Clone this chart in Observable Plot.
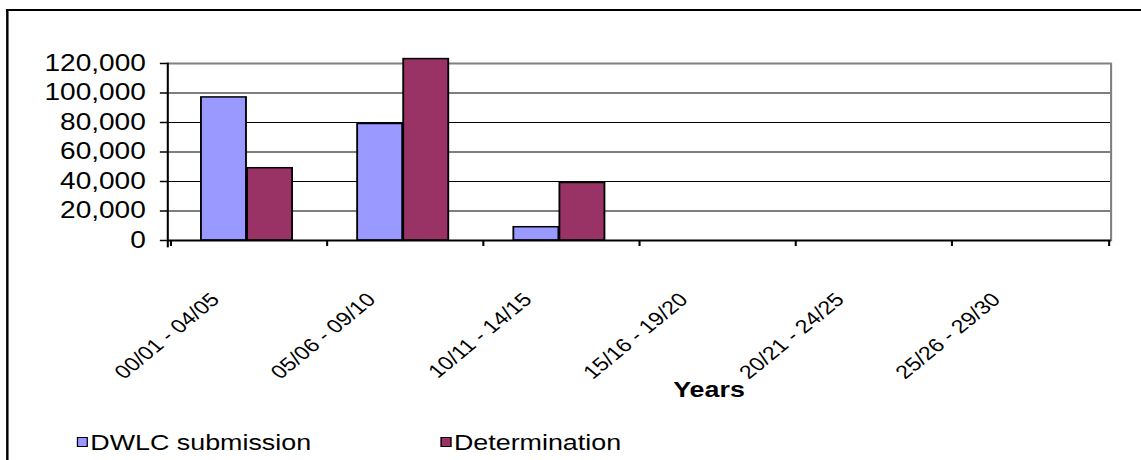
<!DOCTYPE html>
<html>
<head>
<meta charset="utf-8">
<script src="https://cdn.jsdelivr.net/npm/d3@7"></script>
<script src="https://cdn.jsdelivr.net/npm/@observablehq/plot@0.6"></script>
<style>
  html, body { margin: 0; padding: 0; background: #fff; width: 1141px; height: 460px; overflow: hidden; }
  #stage { position: absolute; left: 0; top: 0; width: 935px; height: 460px; transform-origin: 0 0; transform: scaleX(1.2203);
           font-family: "Liberation Sans", Arial, sans-serif; color: #000; }
  #border { position: absolute; left: 5px; top: 9px; width: 1000px; height: 500px; border-left: 2px solid #000; border-top: 2px solid #000; }
  #chart { position: absolute; left: 0; top: 0; }
  #legend { position: absolute; top: 432px; left: 0; width: 935px; height: 24px; font-size: 22px; line-height: 22px; }
  .item { position: absolute; top: 0; display: flex; align-items: center; white-space: nowrap; }
  .sw { width: 7px; height: 8px; border: 1px solid #000; margin-right: 2px; margin-top: -3px; }
</style>
</head>
<body>
<div id="stage">
  <div id="border"></div>
  <div id="chart"></div>
  <div id="legend"></div>
</div>
<script>
// ---- data ----
const periods = ["00/01 - 04/05", "05/06 - 09/10", "10/11 - 14/15", "15/16 - 19/20", "20/21 - 24/25", "25/26 - 29/30"];
const seriesNames = ["DWLC submission", "Determination"];
const dwlcSubmission = [97000, 79000, 9000, null, null, null];
const determination = [49000, 123000, 39000, null, null, null];
const seriesColors = ["#9999FF", "#993366"];
const yTicks = [0, 20000, 40000, 60000, 80000, 100000, 120000];
const axisTitle = "Years";

// ---- table built from the arrays ----
const rows = [];
periods.forEach((p, i) => {
  rows.push({period: p, series: seriesNames[0], value: dwlcSubmission[i]});
  rows.push({period: p, series: seriesNames[1], value: determination[i]});
});

const W = 935, H = 415;
const mL = 137, mR = 25, mT = 63, mB = 175;
const step = (W - mL - mR) / periods.length;
const barW = step * 0.293;
const inner = step / 2 - barW;

const chart = Plot.plot({
  width: W,
  height: H,
  marginLeft: mL,
  marginRight: mR,
  marginTop: mT,
  marginBottom: mB,
  style: {fontFamily: "Liberation Sans, Arial, sans-serif", color: "#000", background: "transparent", overflow: "visible"},
  x: {domain: periods, padding: 0},
  y: {domain: [0, 120000]},
  marks: [
    Plot.gridY(yTicks.filter(d => d > 0 && d < 120000), {stroke: "#000", strokeOpacity: 1, strokeWidth: 1}),
    Plot.ruleY([120000], {stroke: "#808080", strokeWidth: 2}),
    Plot.frame({anchor: "right", stroke: "#808080", strokeWidth: 1.7}),
    Plot.barY(rows.filter(d => d.series === seriesNames[0]), {
      x: "period", y: "value", fill: seriesColors[0], stroke: "#000", strokeWidth: 1.5,
      insetLeft: inner, insetRight: step / 2, dx: -2
    }),
    Plot.barY(rows.filter(d => d.series === seriesNames[1]), {
      x: "period", y: "value", fill: seriesColors[1], stroke: "#000", strokeWidth: 1.5,
      insetLeft: step / 2, insetRight: inner, dx: -2
    }),
    Plot.ruleY([0], {stroke: "#000", strokeWidth: 2}),
    Plot.frame({anchor: "left", stroke: "#000", strokeWidth: 1.7, insetBottom: -6}),
    Plot.axisY(yTicks, {tickFormat: d3.format(","), tickSize: 6, tickPadding: 12, fontSize: 23, strokeWidth: 1.5, label: null}),
    Plot.axisX(periods, {tickSize: 6, text: null, dx: -step / 2, strokeWidth: 1.7, label: null}),
    Plot.axisX([periods[periods.length - 1]], {tickSize: 6, text: null, dx: step / 2, strokeWidth: 1.7, label: null}),
    Plot.axisX(periods, {tickSize: 0, tickRotate: -45, tickPadding: 56, dx: -28, fontSize: 19, label: null}),
    Plot.text([axisTitle], {text: d => d, frameAnchor: "bottom", dx: 57, dy: 156, fontSize: 22, fontWeight: "bold"})
  ]
});
document.getElementById("chart").appendChild(chart);

// ---- legend ----
const legend = document.getElementById("legend");
const legendLeft = [63, 361];
seriesNames.forEach((name, i) => {
  const item = document.createElement("div");
  item.className = "item";
  item.style.left = legendLeft[i] + "px";
  const sw = document.createElement("span");
  sw.className = "sw";
  sw.style.background = seriesColors[i];
  const tx = document.createElement("span");
  tx.textContent = name;
  item.appendChild(sw);
  item.appendChild(tx);
  legend.appendChild(item);
});
</script>
</body>
</html>
